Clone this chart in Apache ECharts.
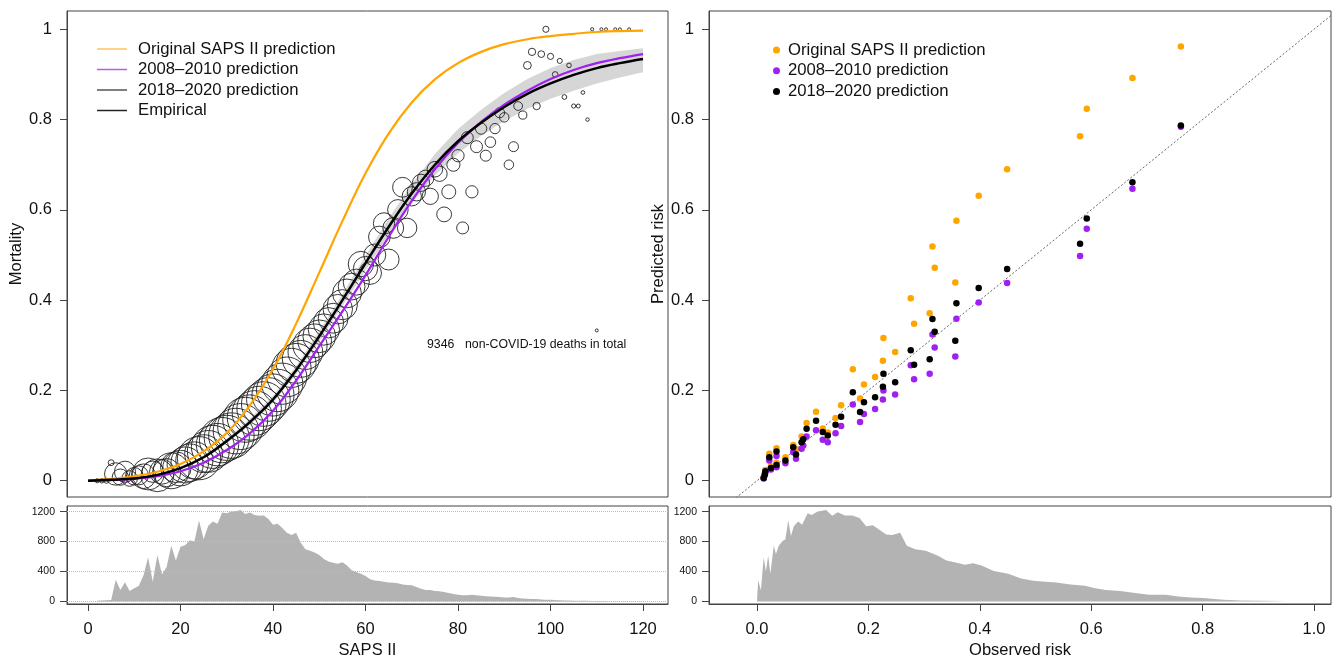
<!DOCTYPE html>
<html><head><meta charset="utf-8">
<script src="https://cdn.jsdelivr.net/npm/echarts@6/dist/echarts.min.js"></script>
<style>html,body{margin:0;padding:0;background:#fff}#c{width:1339px;height:660px}</style>
</head><body><div id="c"></div>
<script>
// ---------- data ----------
const curveScore = [0,5,10,15,20,25,30,35,40,45,50,55,60,65,70,75,80,85,90,95,100,105,110,115,120];
const origPred   = [0.0004,0.004,0.010,0.020,0.037,0.065,0.106,0.167,0.247,0.348,0.461,0.575,0.681,0.769,0.838,0.889,0.925,0.950,0.967,0.978,0.985,0.990,0.994,0.996,0.997];
const pred0810   = [0.000,0.0015,0.004,0.010,0.021,0.040,0.068,0.105,0.155,0.222,0.298,0.375,0.455,0.540,0.620,0.690,0.748,0.795,0.833,0.864,0.890,0.910,0.925,0.936,0.945];
const pred1820   = [0.000,0.002,0.005,0.013,0.028,0.052,0.088,0.130,0.180,0.245,0.320,0.400,0.482,0.562,0.636,0.700,0.752,0.793,0.828,0.857,0.880,0.899,0.914,0.925,0.934];
const bandLower  = [0.000,0.0015,0.004,0.011,0.025,0.048,0.083,0.123,0.172,0.236,0.309,0.387,0.466,0.543,0.615,0.676,0.725,0.764,0.797,0.824,0.846,0.864,0.880,0.893,0.905];
const bandUpper  = [0.000,0.0025,0.006,0.015,0.031,0.056,0.093,0.137,0.188,0.254,0.331,0.413,0.498,0.581,0.657,0.724,0.779,0.822,0.859,0.890,0.914,0.932,0.945,0.952,0.958];

const empScore     = [2,3,4,5,6,7,8,9,10,11,12,13,14,15,16,17,18,19,20,21,22,23,24,25,26,27,28,29,30,31,32,33,34,35,36,37,38,39,40,41,42,43,44,45,46,47,48,49,50,51,52,53,54,55,56,57,58,59,60,61,62,63,64,65,66,67,68,69,70,71,72,73,74,75,76,77,78,79,80,81,82,83,84,85,86,87,88,89,90,91,92,93,94,95,96,97,98,99,100,101,102,103,104,105,106,107,108,109,110,111,112,114,115,117];
const empMortality = [0,0,0,0.04,0.015,0.008,0.02,0.005,0.01,0.012,0.01,0.015,0.02,0.012,0.02,0.018,0.022,0.03,0.028,0.035,0.04,0.045,0.05,0.06,0.065,0.075,0.08,0.09,0.095,0.10,0.11,0.12,0.135,0.14,0.15,0.16,0.17,0.18,0.19,0.20,0.215,0.23,0.25,0.26,0.27,0.285,0.30,0.31,0.32,0.335,0.35,0.36,0.38,0.39,0.415,0.43,0.44,0.48,0.47,0.46,0.50,0.54,0.57,0.49,0.56,0.60,0.65,0.56,0.63,0.64,0.66,0.67,0.63,0.69,0.68,0.59,0.64,0.70,0.72,0.56,0.76,0.64,0.74,0.78,0.72,0.75,0.78,0.815,0.805,0.70,0.74,0.83,0.81,0.92,0.95,0.83,0.945,1.0,0.94,0.90,0.93,0.85,0.92,0.83,0.83,0.86,0.80,1.0,0.333,1.0,1.0,1.0,1.0,1.0];

const histScore = [2,3,4,5,6,7,8,9,10,11,12,13,14,15,16,17,18,19,20,21,22,23,24,25,26,27,28,29,30,31,32,33,34,35,36,37,38,39,40,41,42,43,44,45,46,47,48,49,50,51,52,53,54,55,56,57,58,59,60,61,62,63,64,65,66,67,68,69,70,71,72,73,74,75,76,77,78,79,80,81,82,83,84,85,86,87,88,89,90,91,92,93,94,95,96,97,98,99,100,101,102,103,104,105,106,107,108,109,110,111,112,113,114,115,116,117,118,119,120];
const histCount = [10,12,15,20,290,153,257,140,175,210,350,590,262,620,358,458,742,545,729,750,816,799,1082,829,1012,1069,1039,1187,1178,1200,1204,1222,1169,1187,1156,1143,1148,1100,1025,1039,982,916,886,916,785,698,676,655,620,567,532,515,502,524,480,415,393,371,340,297,279,271,262,253,249,244,227,218,214,192,170,153,153,140,135,127,113,100,87,83,83,87,83,74,70,65,61,57,52,52,57,44,39,35,31,31,26,22,22,18,15,13,12,10,9,8,7,6,5,4,4,3,3,2,2,2,2,1,1];

const calObserved = [0.012,0.014,0.015,0.022,0.025,0.035,0.035,0.051,0.065,0.070,0.080,0.083,0.089,0.106,0.118,0.127,0.141,0.151,0.172,0.185,0.192,0.212,0.226,0.227,0.248,0.276,0.282,0.310,0.315,0.319,0.356,0.358,0.398,0.449,0.580,0.592,0.674,0.761];
const calOriginal = [0.008,0.016,0.024,0.060,0.032,0.072,0.040,0.052,0.079,0.070,0.098,0.097,0.128,0.153,0.116,0.107,0.139,0.167,0.247,0.182,0.213,0.230,0.266,0.316,0.285,0.404,0.348,0.371,0.519,0.472,0.439,0.576,0.631,0.690,0.763,0.824,0.892,0.962];
const cal0810     = [0.005,0.012,0.018,0.045,0.025,0.055,0.030,0.039,0.063,0.049,0.071,0.078,0.098,0.112,0.091,0.085,0.105,0.121,0.169,0.130,0.148,0.159,0.180,0.200,0.191,0.256,0.225,0.237,0.324,0.295,0.275,0.359,0.395,0.438,0.498,0.558,0.647,0.784];
const cal1820     = [0.006,0.014,0.021,0.052,0.028,0.065,0.035,0.045,0.074,0.058,0.085,0.092,0.115,0.133,0.108,0.100,0.124,0.142,0.196,0.152,0.174,0.185,0.208,0.237,0.218,0.289,0.257,0.269,0.358,0.330,0.310,0.393,0.427,0.469,0.525,0.581,0.661,0.787];

const riskHistX     = [0.000,0.002,0.007,0.012,0.016,0.020,0.024,0.030,0.034,0.039,0.046,0.051,0.056,0.061,0.066,0.074,0.081,0.091,0.098,0.109,0.124,0.135,0.145,0.158,0.171,0.184,0.196,0.208,0.219,0.232,0.243,0.257,0.269,0.284,0.303,0.325,0.340,0.355,0.373,0.388,0.403,0.425,0.451,0.474,0.496,0.518,0.537,0.563,0.589,0.607,0.626,0.652,0.682,0.704,0.734,0.756,0.778,0.801,0.816,0.838,0.868,0.905,0.952];
const riskHistCount = [0,284,150,590,400,611,371,742,633,742,807,829,1085,873,1004,1069,1025,1178,1156,1200,1222,1143,1191,1148,1148,1113,1004,1017,960,895,886,916,742,698,676,611,545,524,489,511,480,406,371,305,275,262,253,227,209,175,153,140,109,87,87,65,52,44,35,22,13,9,4];

const totalDeaths = 9346;
const leftXTicks  = [0,20,40,60,80,100,120];
const rightXTicks = [0,0.2,0.4,0.6,0.8,1.0];
const mainYTicks  = [0,0.2,0.4,0.6,0.8,1];
const histYTicks  = [0,400,800,1200];
const seriesNames = ['Original SAPS II prediction','2008\u20132010 prediction','2018\u20132020 prediction','Empirical'];

// ---------- chart ----------
const FONT = 'Liberation Sans, Arial, Helvetica, sans-serif';
const AX = '#444';
const chart = echarts.init(document.getElementById('c'), null, {renderer:'canvas'});
const pairs = (xs, ys) => xs.map((x,i)=>[x, ys[i]]);
const countByScore = s => { const i = histScore.indexOf(s); return i >= 0 ? histCount[i] : 1; };
const maxCount = Math.max(...histCount);
const fmtMain = v => (v === 0 || v === 1) ? String(v) : v.toFixed(1);

function mkX(grid, min, max, ticks, fmt, name, show) {
  return {
    type:'value', gridIndex:grid, min:min, max:max,
    axisLine:{show:show, onZero:false, lineStyle:{color:AX, width:1}},
    splitLine:{show:false},
    axisTick:{show:show, length:7, lineStyle:{color:AX, width:1}, customValues:ticks},
    axisLabel:{show:show, customValues:ticks, formatter:fmt, fontSize:16.5, fontFamily:FONT, color:'#111', margin:17},
    name: name, nameLocation:'middle', nameGap:38,
    nameTextStyle:{fontSize:16.5, fontFamily:FONT, color:'#111'}
  };
}
function mkY(grid, min, max, ticks, fmt, fs, name, margin, gap) {
  return {
    type:'value', gridIndex:grid, min:min, max:max,
    axisLine:{show:true, onZero:false, lineStyle:{color:AX, width:1}},
    splitLine:{show:false},
    axisTick:{show:true, length:7, lineStyle:{color:AX, width:1}, customValues:ticks},
    axisLabel:{customValues:ticks, formatter:fmt, fontSize:fs, fontFamily:FONT, color:'#111', margin:margin},
    name:name, nameLocation:'middle', nameGap:gap,
    nameTextStyle:{fontSize:16.5, fontFamily:FONT, color:'#111'}
  };
}

const LX = [-4.54, 125.4], RX = [-0.0862, 1.0305], MY = [-0.036, 1.0405], HY = [-35, 1275];

const option = {
  animation:false,
  backgroundColor:'#fff',
  grid:[
    {left:67, top:11, width:601, height:486, show:true, borderColor:AX, borderWidth:1},
    {left:67, top:506, width:601, height:100, show:true, borderColor:AX, borderWidth:1},
    {left:709, top:11, width:622, height:486, show:true, borderColor:AX, borderWidth:1},
    {left:709, top:506, width:622, height:100, show:true, borderColor:AX, borderWidth:1}
  ],
  xAxis:[
    mkX(0, LX[0], LX[1], leftXTicks, v=>String(v), '', false),
    mkX(1, LX[0], LX[1], leftXTicks, v=>String(v), 'SAPS II', true),
    mkX(2, RX[0], RX[1], rightXTicks, v=>v.toFixed(1), '', false),
    mkX(3, RX[0], RX[1], rightXTicks, v=>v.toFixed(1), 'Observed risk', true)
  ],
  yAxis:[
    mkY(0, MY[0], MY[1], mainYTicks, fmtMain, 16.5, 'Mortality', 15, 34),
    mkY(1, HY[0], HY[1], histYTicks, v=>String(v), 10.5, '', 12, 40),
    mkY(2, MY[0], MY[1], mainYTicks, fmtMain, 16.5, 'Predicted risk', 15, 13),
    mkY(3, HY[0], HY[1], histYTicks, v=>String(v), 10.5, '', 12, 40)
  ],
  legend:[
    {
      left:92, top:35, orient:'vertical', icon:'rect', itemWidth:30, itemHeight:1.5, itemGap:2.5,
      selectedMode:false,
      textStyle:{fontSize:16.7, fontFamily:FONT, color:'#111', lineHeight:18, padding:[0,0,0,6]},
      data:[
        {name:seriesNames[0], itemStyle:{color:'#FFC45A'}},
        {name:seriesNames[1], itemStyle:{color:'#B45CF2'}},
        {name:seriesNames[2], itemStyle:{color:'#555'}},
        {name:seriesNames[3], itemStyle:{color:'#222', borderWidth:0}}
      ]
    },
    {
      left:768, top:36, orient:'vertical', icon:'circle', itemWidth:7, itemHeight:7, itemGap:2.7,
      selectedMode:false,
      textStyle:{fontSize:16.7, fontFamily:FONT, color:'#111', lineHeight:18, padding:[0,0,0,3]},
      data:[
        {name:seriesNames[0], itemStyle:{color:'#FFA500', opacity:1}},
        {name:seriesNames[1], itemStyle:{color:'#A020F0', opacity:1}},
        {name:seriesNames[2], itemStyle:{color:'#000', opacity:1}}
      ]
    }
  ],
  graphic:[
    {type:'text', left:427, top:339, style:{text:String(totalDeaths), fontSize:12.3, fontFamily:FONT, fill:'#111'}},
    {type:'text', left:465, top:339, style:{text:'non-COVID-19 deaths in total', fontSize:12.3, fontFamily:FONT, fill:'#111'}}
  ],
  series:[
    { // confidence band
      type:'custom', xAxisIndex:0, yAxisIndex:0, z:1, silent:true,
      data: curveScore.map((s,i)=>[s, bandLower[i], bandUpper[i]]),
      renderItem:(params, api) => {
        if (params.dataIndex !== 0) return null;
        const pts = [];
        for (let i = 0; i < curveScore.length; i++) pts.push(api.coord([curveScore[i], bandUpper[i]]));
        for (let i = curveScore.length - 1; i >= 0; i--) pts.push(api.coord([curveScore[i], bandLower[i]]));
        return {type:'polygon', shape:{points:pts}, style:{fill:'#d6d6d6'}};
      }
    },
    {
      name:seriesNames[3], type:'scatter', xAxisIndex:0, yAxisIndex:0, z:2, silent:true,
      symbol:'circle',
      symbolSize: v => Math.max(3, 2*23*Math.sqrt(v[2]/maxCount)),
      itemStyle:{color:'rgba(0,0,0,0)', borderColor:'#222', borderWidth:0.9, opacity:1},
      data: empScore.map((s,i)=>[s, empMortality[i], countByScore(s)])
    },
    {name:seriesNames[0], type:'line', xAxisIndex:0, yAxisIndex:0, z:3, showSymbol:false, smooth:0.4,
     lineStyle:{color:'#FFA500', width:2.2}, itemStyle:{color:'#FFA500'}, data:pairs(curveScore, origPred)},
    {name:seriesNames[1], type:'line', xAxisIndex:0, yAxisIndex:0, z:4, showSymbol:false, smooth:0.4,
     lineStyle:{color:'#A020F0', width:2.2}, itemStyle:{color:'#A020F0'}, data:pairs(curveScore, pred0810)},
    {name:seriesNames[2], type:'line', xAxisIndex:0, yAxisIndex:0, z:5, showSymbol:false, smooth:0.4,
     lineStyle:{color:'#000', width:2.5}, itemStyle:{color:'#000'}, data:pairs(curveScore, pred1820)},
    {
      type:'line', xAxisIndex:1, yAxisIndex:1, showSymbol:false, silent:true,
      lineStyle:{width:0}, areaStyle:{color:'#b3b3b3', opacity:1}, itemStyle:{color:'#b3b3b3'},
      data: pairs(histScore, histCount),
      markLine:{silent:true, symbol:'none', label:{show:false},
        lineStyle:{type:'dotted', color:'#bbb', width:1},
        data: histYTicks.map(v=>({yAxis:v}))}
    },
    {type:'line', xAxisIndex:2, yAxisIndex:2, showSymbol:false, silent:true, clip:true,
     lineStyle:{type:[2,2], color:'#666', width:1}, data:[[-0.2,-0.2],[1.2,1.2]]},
    {name:seriesNames[0], type:'scatter', xAxisIndex:2, yAxisIndex:2, symbolSize:6.5, z:3,
     itemStyle:{color:'#FFA500', opacity:1}, data:pairs(calObserved, calOriginal)},
    {name:seriesNames[1], type:'scatter', xAxisIndex:2, yAxisIndex:2, symbolSize:6.5, z:4,
     itemStyle:{color:'#A020F0', opacity:1}, data:pairs(calObserved, cal0810)},
    {name:seriesNames[2], type:'scatter', xAxisIndex:2, yAxisIndex:2, symbolSize:6.5, z:5,
     itemStyle:{color:'#000', opacity:1}, data:pairs(calObserved, cal1820)},
    {
      type:'line', xAxisIndex:3, yAxisIndex:3, showSymbol:false, silent:true,
      lineStyle:{width:0}, areaStyle:{color:'#b3b3b3', opacity:1}, itemStyle:{color:'#b3b3b3'},
      data: pairs(riskHistX, riskHistCount)
    }
  ]
};
chart.setOption(option);
</script>
</body></html>
